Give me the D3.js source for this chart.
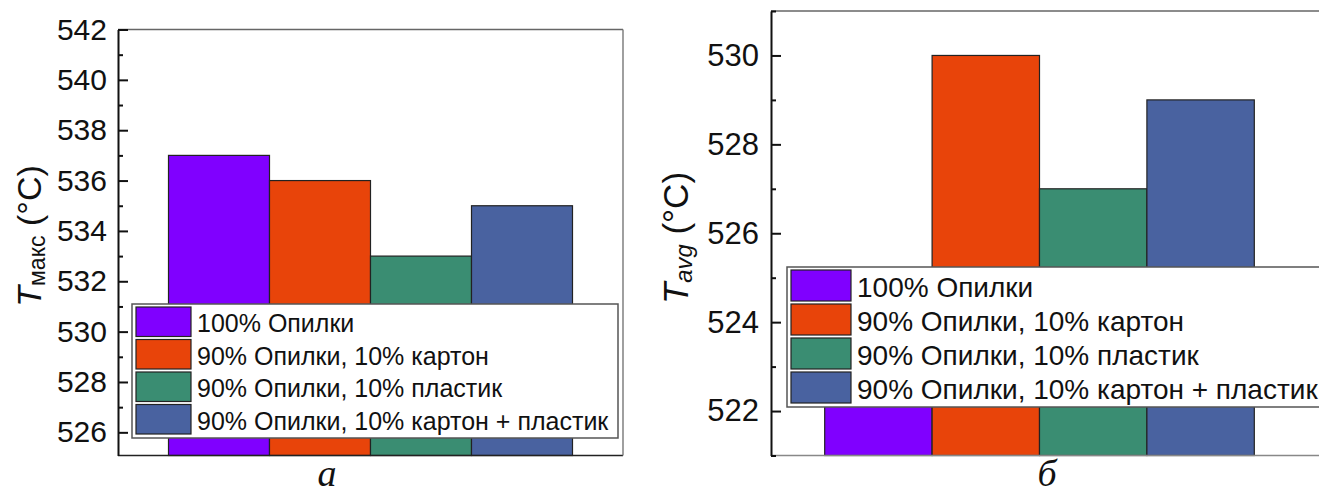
<!DOCTYPE html>
<html><head><meta charset="utf-8">
<script src="https://cdn.jsdelivr.net/npm/d3@7"></script>
<style>
body{margin:0;background:#fff;}
svg{display:block;font-family:"Liberation Sans",Arial,sans-serif;}
</style></head>
<body><svg id="c" width="1319" height="494"></svg>
<script>
const categories = ["100% Опилки", "90% Опилки, 10% картон", "90% Опилки, 10% пластик", "90% Опилки, 10% картон + пластик"];
const tMax = [537, 536, 533, 535];
const tAvg = [524, 530, 527, 529];
const colors = ["#8000FF", "#E8440A", "#3A8D72", "#4962A0"];
const majorTicksA = [526, 528, 530, 532, 534, 536, 538, 540, 542];
const minorTicksA = [527, 529, 531, 533, 535, 537, 539, 541];
const majorTicksB = [522, 524, 526, 528, 530];
const minorTicksB = [521, 523, 525, 527, 529, 531];
const panelLabels = ["а", "б"];

const svg = d3.select("#c");

function panel(cfg){
  const g = svg.append("g");
  const x = d3.scaleBand().domain(categories).range([cfg.x0, cfg.x1]).paddingInner(0).paddingOuter(0.5);
  const y = d3.scaleLinear().domain(cfg.dom).range([cfg.y1, cfg.y0]);
  g.selectAll("rect.bar").data(cfg.values).join("rect")
    .attr("x",(d,i)=>x(categories[i])).attr("width",x.bandwidth())
    .attr("y",d=>y(d)).attr("height",d=>cfg.y1-y(d))
    .attr("fill",(d,i)=>colors[i]).attr("stroke","#222").attr("stroke-width",1.2);
  g.append("line").attr("x1",cfg.x0).attr("x2",cfg.frameRight).attr("y1",cfg.y0).attr("y2",cfg.y0).attr("stroke","#666").attr("stroke-width",1.6);
  g.append("line").attr("x1",cfg.x0).attr("x2",cfg.frameRight).attr("y1",cfg.y1).attr("y2",cfg.y1).attr("stroke",cfg.bottomColor).attr("stroke-width",1.6);
  if(cfg.rightLine) g.append("line").attr("x1",cfg.x1).attr("x2",cfg.x1).attr("y1",cfg.y0).attr("y2",cfg.y1).attr("stroke","#777").attr("stroke-width",1.4);
  const minor = g.append("g").attr("transform",`translate(${cfg.x0},0)`)
    .call(d3.axisLeft(y).tickValues(cfg.minor).tickSize(-5).tickFormat(""));
  minor.select(".domain").remove();
  minor.selectAll("line").attr("stroke","#111").attr("stroke-width",2);
  const ax = g.append("g").attr("transform",`translate(${cfg.x0},0)`)
    .call(d3.axisLeft(y).tickValues(cfg.major).tickSize(-10).tickSizeOuter(0).tickPadding(cfg.pad).tickFormat(d3.format("d")));
  ax.select(".domain").attr("stroke","#111").attr("stroke-width",2);
  ax.selectAll("line").attr("stroke","#111").attr("stroke-width",2);
  ax.selectAll("text").attr("font-size",cfg.tfs).attr("fill","#111").attr("font-family","Liberation Sans, Arial, sans-serif");
  const lg = g.append("g");
  lg.append("rect").attr("x",cfg.lx).attr("y",cfg.ly).attr("width",cfg.lw).attr("height",cfg.lh)
    .attr("fill","#fff").attr("stroke","#555").attr("stroke-width",1.5);
  const rowH = (cfg.lh-4)/4;
  categories.forEach((c,i)=>{
    lg.append("rect").attr("x",cfg.lx+4).attr("y",cfg.ly+3+i*rowH).attr("width",cfg.sw).attr("height",rowH-3)
      .attr("fill",colors[i]).attr("stroke","#222").attr("stroke-width",1.2);
    lg.append("text").attr("x",cfg.lx+cfg.sw+10).attr("y",cfg.ly+3+i*rowH+rowH/2).attr("dy","0.35em")
      .attr("font-size",cfg.lfs).attr("fill","#111").text(c);
  });
  const t = g.append("text").attr("transform",`translate(${cfg.tx},${cfg.ty}) rotate(-90)`)
    .attr("text-anchor","middle").attr("font-size",cfg.hfs).attr("fill","#111");
  t.append("tspan").attr("font-style","italic").text("T");
  t.append("tspan").attr("font-size",cfg.hfs*0.68).attr("font-style",cfg.subItalic?"italic":"normal").attr("dy",4).text(cfg.sub);
  t.append("tspan").attr("dy",-4).text(" (°C)");
  g.append("text").attr("x",cfg.px).attr("y",486).attr("text-anchor","middle")
    .attr("font-family","Liberation Serif, Times New Roman, serif").attr("font-style","italic").attr("font-size",38).attr("fill","#111").text(cfg.plabel);
}

panel({x0:118,x1:623,frameRight:623,y0:29.5,y1:455.5,dom:[525.08,542],values:tMax,major:majorTicksA,minor:minorTicksA,pad:11,tfs:30,hfs:34,
  bottomColor:"#222",rightLine:true,lx:132,ly:304,lw:486,lh:134,sw:55,lfs:25,tx:41,ty:236,sub:"макс",subItalic:false,px:327,plabel:panelLabels[0]});
panel({x0:771,x1:1308,frameRight:1319,y0:11,y1:455.5,dom:[521,531],values:tAvg,major:majorTicksB,minor:minorTicksB,pad:12,tfs:31,hfs:35,
  bottomColor:"#888",rightLine:false,lx:787,ly:267,lw:545,lh:140,sw:60,lfs:28,tx:688,ty:238,sub:"avg",subItalic:true,px:1047,plabel:panelLabels[1]});
</script></body></html>
